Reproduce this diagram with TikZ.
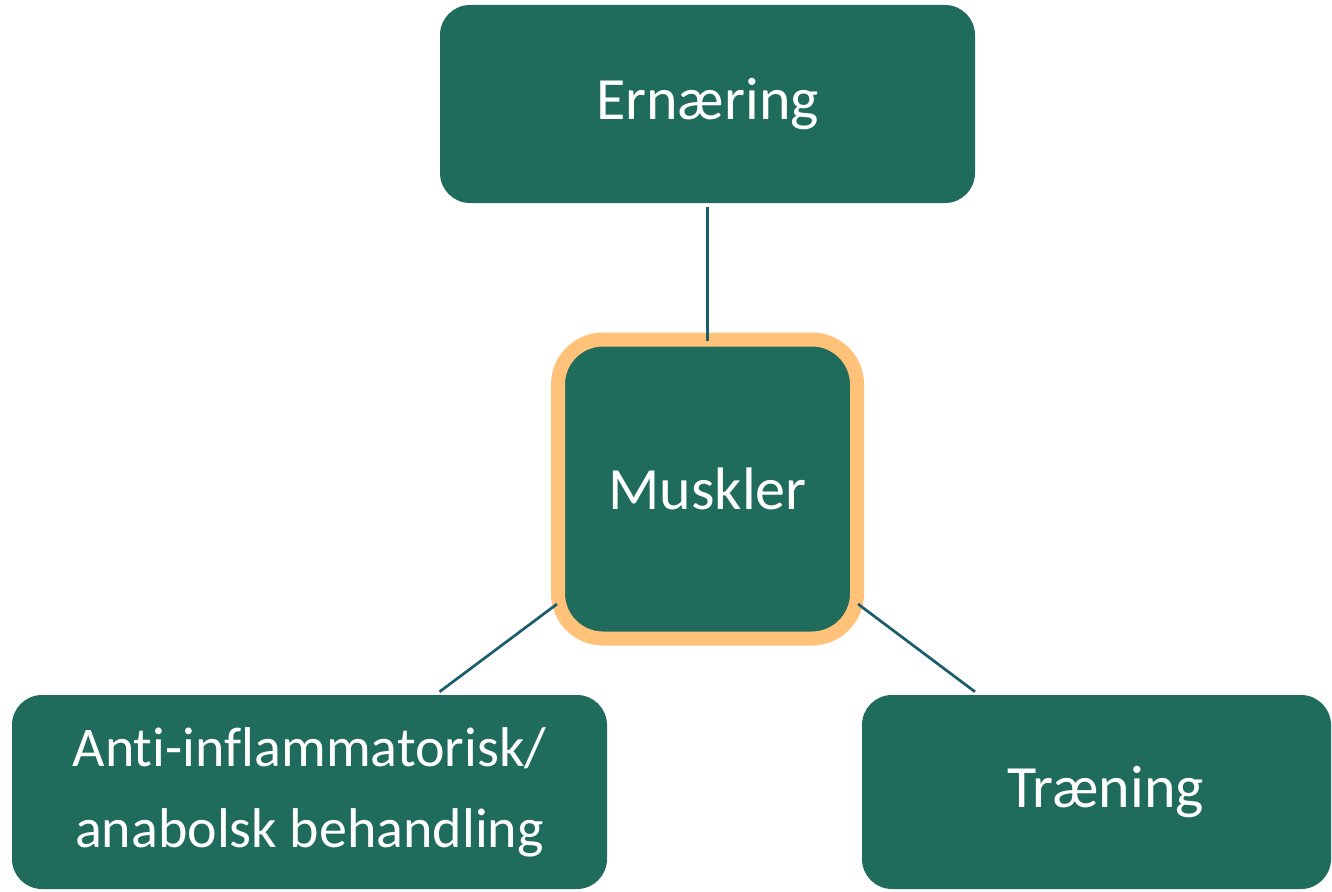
\documentclass[tikz,border=0pt]{standalone}
\usepackage{fontspec}
\setmainfont[Ligatures=NoCommon]{Carlito}
\usetikzlibrary{positioning}

\definecolor{boxgreen}{HTML}{1F6B5C}
\definecolor{hubrim}{HTML}{FFC278}
\definecolor{linkteal}{HTML}{1A5E6E}

\begin{document}
\begin{tikzpicture}[
    x=1pt, y=-1pt,
    box/.style={rectangle, rounded corners=30pt, fill=boxgreen, text=white, align=center, inner sep=0pt, font=\fontsize{60}{72}\selectfont},
    hub/.style={box, draw=hubrim, line width=14pt, rounded corners=45pt, minimum width=299pt, minimum height=299pt},
    link/.style={draw=linkteal, line width=2.7pt}
]
\useasboundingbox (0,0) rectangle (1332,891);

% Boxes
\node (ernaering) at (707.5,104) [box, minimum width=535pt, minimum height=198pt] {Ernæring};
\node (muskler) at (707.5,489) [hub] {Muskler};
\node (anti) at (309.5,792) [box, minimum width=595pt, minimum height=194pt, font=\fontsize{56}{81}\selectfont] {Anti-inflammatorisk/\\anabolsk behandling};
\node (traening) at (1096.5,792) [box, minimum width=469pt, minimum height=194pt] {\hspace*{18pt}Træning};

% Connections
\draw [link] ([yshift=-4pt]ernaering.south) -- ([yshift=-8pt]muskler.north);
\draw [link] ([shift={(6pt,-115pt)}]muskler.west) -- ([shift={(130pt,3pt)}]anti.north);
\draw [link] ([shift={(-6pt,-115pt)}]muskler.east) -- ([shift={(-121.5pt,3pt)}]traening.north);

\end{tikzpicture}
\end{document}
